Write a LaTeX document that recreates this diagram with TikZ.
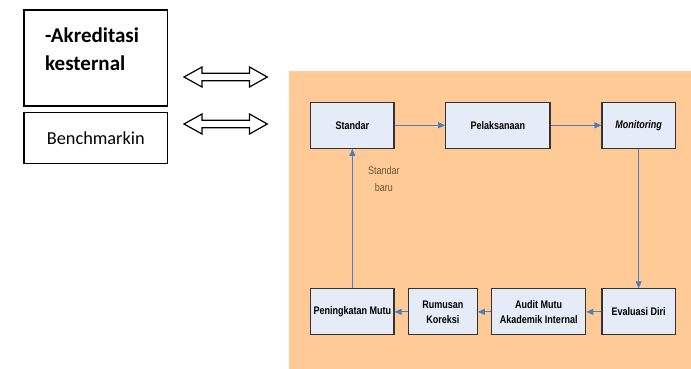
\documentclass[tikz,border=0pt]{standalone}
\usepackage{fontspec}
\setmainfont{Carlito}
\newfontfamily\narrowsf[FakeStretch=0.82]{Liberation Sans}
\usetikzlibrary{arrows.meta}

\definecolor{bgorange}{HTML}{FFCA96}
\definecolor{boxfill}{HTML}{E6ECF7}
\definecolor{flowblue}{HTML}{4A7EC1}
\definecolor{notebrown}{HTML}{6E5236}

\begin{document}
\begin{tikzpicture}[x=1pt,y=-1pt,
    outerbox/.style={draw,line width=1.4pt,inner sep=0pt},
    procbox/.style={draw=black!80,line width=1.1pt,fill=boxfill,inner sep=1pt,align=center,
        font=\narrowsf\bfseries\fontsize{11}{15}\selectfont,minimum height=46pt},
    flow/.style={draw=flowblue,line width=0.9pt,-{Triangle[length=7pt,width=6pt]}},
    twoway/.style={line width=1.2pt,line join=miter}]
    \useasboundingbox (0,0) rectangle (691,369);
    \fill[bgorange](289,71) rectangle (691,369);
    % left boxes
    \node[outerbox,minimum width=143.7pt,minimum height=96pt] (akr) at (95.8,58) {};
    \node[anchor=north west,inner sep=0pt,align=left,font=\bfseries\fontsize{21}{28}\selectfont]
        (akrtext) at (45,27.5) {-Akreditasi\\kesternal};
    \node[outerbox,minimum width=143.7pt,minimum height=50.6pt,font=\fontsize{18.3}{20}\selectfont]
        (bench) at (95.8,138) {Benchmarkin};
    % two-way arrows
    \draw[twoway](184,77)--++(18,-10)--++(0,6.3)--++(47.5,0)--++(0,-6.3)--++(17.8,10)
        --++(-17.8,10)--++(0,-6.3)--++(-47.5,0)--++(0,6.3)--cycle;
    \draw[twoway](184,124)--++(18,-10)--++(0,6.3)--++(47.5,0)--++(0,-6.3)--++(17.8,10)
        --++(-17.8,10)--++(0,-6.3)--++(-47.5,0)--++(0,6.3)--cycle;
    % cycle
    \node[procbox,minimum width=83.3pt] (std) at (352.35,125.3) {Standar};
    \node[procbox,minimum width=104.3pt] (pel) at (497.85,125.3) {Pelaksanaan};
    \node[procbox,minimum width=73.3pt,font=\narrowsf\bfseries\itshape\fontsize{11}{15}\selectfont]
        (mon) at (638.65,125.3) {Monitoring};
    \node[procbox,minimum width=73.3pt] (eva) at (638.65,311.85) {Evaluasi Diri};
    \node[procbox,minimum width=94pt] (aud) at (538.7,311.85) {Audit Mutu\\Akademik Internal};
    \node[procbox,minimum width=69pt] (rum) at (442.8,311.85) {Rumusan\\Koreksi};
    \node[procbox,minimum width=83.3pt] (pen) at (352.35,311.85) {Peningkatan Mutu};
    \draw[flow](std)--(pel);
    \draw[flow](pel)--(mon);
    \draw[flow](mon)--(eva);
    \draw[flow](eva)--(aud);
    \draw[flow](aud)--(rum);
    \draw[flow](rum)--(pen);
    \draw[flow](pen)--(std)node[pos=0.785,right=12pt,align=center,text=notebrown,
        font=\narrowsf\fontsize{11}{17}\selectfont]{Standar\\baru};
\end{tikzpicture}
\end{document}
